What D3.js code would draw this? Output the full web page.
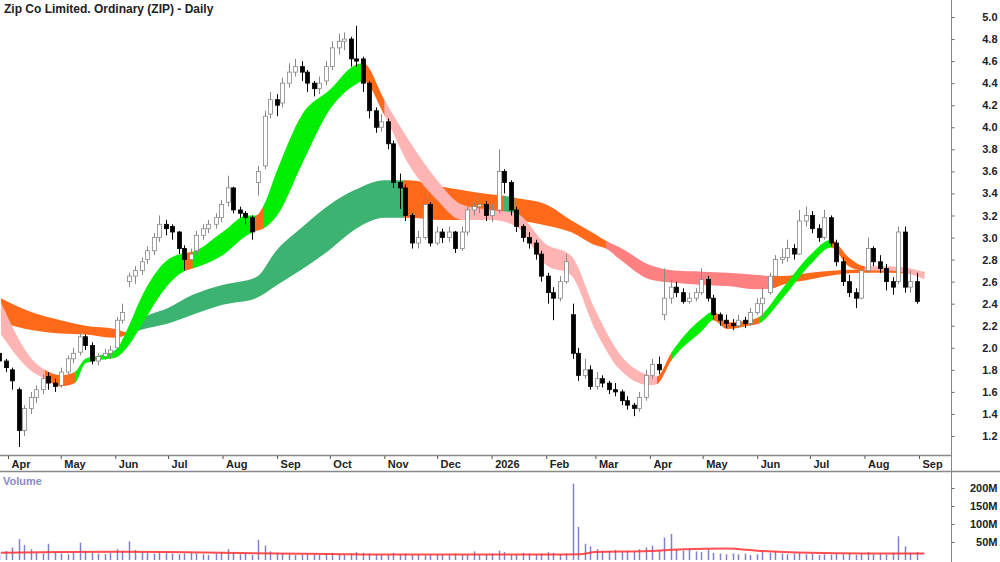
<!DOCTYPE html>
<html>
<head>
<meta charset="utf-8">
<script src="https://cdn.jsdelivr.net/npm/d3@7"></script>
<style>
  body { margin: 0; background: #fff; }
  text { font-family: "Liberation Sans", Arial, sans-serif; }
</style>
</head>
<body>
<script>
// price bars: [open, high, low, close], Mon/Thu samples from 27 Mar 2025
var ohlc = [
 [1.95,1.98,1.84,1.88],[1.88,1.90,1.78,1.82],[1.80,1.82,1.62,1.70],[1.62,1.64,1.10,1.25],[1.25,1.48,1.20,1.45],
 [1.45,1.60,1.40,1.55],[1.55,1.66,1.50,1.62],[1.62,1.76,1.58,1.72],[1.74,1.78,1.62,1.68],[1.68,1.72,1.60,1.65],
 [1.66,1.82,1.64,1.78],[1.78,1.93,1.75,1.90],[1.90,2.00,1.86,1.95],[1.96,2.14,1.93,2.10],[2.10,2.12,1.98,2.02],
 [2.02,2.05,1.85,1.88],[1.88,1.95,1.84,1.92],[1.92,1.99,1.89,1.95],[1.95,2.02,1.90,1.98],[2.00,2.28,1.97,2.25],
 [2.25,2.40,2.22,2.32],[2.60,2.68,2.55,2.65],[2.65,2.74,2.58,2.70],[2.70,2.82,2.66,2.78],[2.80,2.92,2.76,2.88],
 [2.88,3.04,2.84,3.00],[3.00,3.20,2.96,3.12],[3.12,3.16,3.02,3.08],[3.10,3.12,2.98,3.05],[3.05,3.06,2.85,2.90],
 [2.90,2.93,2.70,2.80],[2.80,2.90,2.76,2.85],[2.88,3.06,2.84,3.02],[3.02,3.12,2.98,3.08],[3.08,3.16,3.04,3.12],
 [3.12,3.22,3.08,3.18],[3.18,3.34,3.14,3.30],[3.32,3.56,3.28,3.45],[3.45,3.46,3.22,3.25],[3.25,3.28,3.18,3.22],
 [3.22,3.24,3.12,3.18],[3.18,3.20,2.98,3.05],[3.50,3.65,3.38,3.60],[3.65,4.15,3.62,4.10],[4.12,4.32,4.08,4.25],
 [4.25,4.30,4.10,4.20],[4.22,4.45,4.18,4.40],[4.40,4.58,4.36,4.50],[4.50,4.62,4.46,4.55],[4.55,4.60,4.42,4.50],
 [4.50,4.52,4.32,4.40],[4.40,4.42,4.28,4.35],[4.35,4.46,4.30,4.40],[4.42,4.60,4.38,4.55],[4.55,4.78,4.52,4.72],
 [4.72,4.85,4.66,4.78],[4.78,4.86,4.70,4.80],[4.80,4.82,4.55,4.62],[4.62,4.92,4.55,4.60],[4.62,4.64,4.32,4.40],
 [4.40,4.42,4.08,4.15],[4.15,4.18,3.95,4.00],[4.00,4.12,3.96,4.05],[4.05,4.08,3.80,3.85],[3.85,3.88,3.45,3.50],
 [3.50,3.58,3.26,3.45],[3.45,3.48,3.15,3.20],[3.20,3.22,2.90,2.95],[2.95,3.06,2.90,3.00],[3.00,3.36,2.98,3.30],
 [3.30,3.32,2.92,2.95],[2.95,3.10,2.93,3.05],[3.05,3.08,2.95,3.00],[3.00,3.10,2.96,3.05],[3.05,3.06,2.86,2.90],
 [2.90,3.10,2.88,3.05],[3.05,3.28,3.02,3.25],[3.25,3.32,3.20,3.28],[3.28,3.36,3.22,3.30],[3.30,3.33,3.15,3.20],
 [3.20,3.30,3.14,3.25],[3.25,3.80,3.22,3.60],[3.60,3.62,3.40,3.50],[3.50,3.52,3.20,3.25],[3.25,3.28,3.05,3.10],
 [3.10,3.12,2.96,3.00],[3.00,3.05,2.90,2.95],[2.95,2.98,2.80,2.85],[2.85,2.88,2.60,2.65],[2.65,2.68,2.40,2.50],
 [2.50,2.55,2.25,2.45],[2.45,2.65,2.42,2.60],[2.60,2.85,2.58,2.78],[2.30,2.40,1.90,1.95],[1.95,2.00,1.70,1.75],
 [1.75,1.90,1.72,1.80],[1.80,1.84,1.62,1.65],[1.65,1.78,1.62,1.72],[1.72,1.75,1.64,1.68],[1.68,1.70,1.58,1.62],
 [1.62,1.68,1.56,1.60],[1.60,1.62,1.48,1.52],[1.52,1.56,1.44,1.48],[1.48,1.50,1.38,1.45],[1.45,1.60,1.42,1.55],
 [1.55,1.80,1.52,1.75],[1.75,1.90,1.72,1.85],[1.85,1.92,1.76,1.80],[2.30,2.72,2.25,2.45],[2.45,2.62,2.40,2.55],
 [2.55,2.60,2.46,2.50],[2.50,2.54,2.40,2.42],[2.42,2.50,2.40,2.45],[2.45,2.54,2.42,2.50],[2.50,2.72,2.48,2.62],
 [2.62,2.65,2.42,2.45],[2.45,2.48,2.26,2.30],[2.30,2.32,2.20,2.25],[2.25,2.30,2.18,2.22],[2.22,2.26,2.16,2.20],
 [2.20,2.30,2.18,2.25],[2.25,2.28,2.18,2.22],[2.22,2.36,2.20,2.32],[2.32,2.45,2.30,2.40],[2.40,2.55,2.28,2.45],
 [2.50,2.68,2.48,2.65],[2.65,2.84,2.62,2.80],[2.80,2.90,2.76,2.82],[2.82,2.98,2.78,2.90],[2.90,2.94,2.80,2.85],
 [2.85,3.25,2.84,3.15],[3.15,3.28,3.10,3.20],[3.20,3.24,3.04,3.08],[3.08,3.12,2.96,3.00],[3.00,3.25,2.98,3.18],
 [3.18,3.20,2.92,2.95],[2.95,2.98,2.74,2.78],[2.78,2.82,2.56,2.60],[2.60,2.66,2.46,2.50],[2.50,2.54,2.36,2.45],
 [2.45,2.74,2.44,2.70],[2.70,3.00,2.68,2.90],[2.90,2.92,2.74,2.78],[2.78,2.84,2.68,2.72],[2.72,2.76,2.52,2.60],
 [2.60,2.64,2.48,2.55],[2.60,3.10,2.58,3.05],[3.05,3.10,2.50,2.55],[2.55,2.70,2.50,2.60],[2.60,2.68,2.40,2.42]
];

// volume in millions, same samples as ohlc
var volume = [
 22,25,35,58,42,30,20,18,45,22,18,16,20,48,24,20,18,16,20,30,
 26,52,28,22,20,18,24,20,18,16,18,20,18,16,14,18,22,30,20,16,
 18,14,56,40,24,20,18,16,14,16,18,16,14,18,20,16,14,18,22,20,
 18,16,15,14,20,16,18,14,15,13,16,14,15,13,18,16,14,24,14,16,
 18,26,22,14,16,20,18,16,18,22,20,16,18,212,92,45,38,30,26,24,
 28,22,25,22,30,35,40,28,62,72,30,26,28,24,22,30,20,18,16,18,
 16,18,14,16,22,20,24,18,16,18,20,16,18,14,16,15,18,16,20,14,
 18,22,16,18,15,20,66,38,20,22
];

// long-term moving average ribbon
var longDates = ["2025-03-28","2025-04-15","2025-05-01","2025-05-15","2025-06-01","2025-06-08","2025-06-15","2025-07-01",
  "2025-07-15","2025-08-01","2025-08-20","2025-09-01","2025-09-15","2025-10-01","2025-10-15","2025-11-01","2025-11-12",
  "2025-11-15","2025-12-01","2025-12-15","2026-01-01","2026-01-08","2026-01-14","2026-02-01","2026-02-15","2026-03-01",
  "2026-03-07","2026-03-15","2026-04-01","2026-04-15","2026-05-01","2026-05-15","2026-06-01","2026-06-10","2026-06-15",
  "2026-07-01","2026-07-15","2026-08-01","2026-08-15","2026-09-01","2026-09-04"];
var longTop = [2.45,2.32,2.25,2.20,2.17,2.14,2.25,2.36,2.48,2.57,2.64,2.89,3.09,3.30,3.43,3.52,3.52,3.52,3.47,3.43,3.39,3.38,
  3.36,3.30,3.16,3.03,2.97,2.91,2.75,2.70,2.69,2.68,2.66,2.65,2.65,2.68,2.70,2.71,2.71,2.69,2.69];
var longBot = [2.23,2.16,2.13,2.12,2.09,2.12,2.16,2.22,2.30,2.39,2.45,2.57,2.71,2.89,3.07,3.18,3.18,3.18,3.16,3.16,3.18,3.17,
  3.16,3.11,3.05,2.93,2.90,2.80,2.62,2.59,2.57,2.56,2.53,2.54,2.57,2.62,2.66,2.68,2.68,2.66,2.65];
var longState = ["o","o","o","o","o","dg","dg","dg","dg","dg","dg","dg","dg","dg","dg","dg","o","o","o","o","o","dg",
  "o","o","o","o","sal","sal","sal","sal","sal","sal","sal","o","o","o","o","o","o","o","o"];

// short-term moving average ribbon
var shortDates = ["2025-03-28","2025-04-15","2025-04-22","2025-05-01","2025-05-09","2025-05-15","2025-05-23","2025-06-01",
  "2025-06-09","2025-06-15","2025-07-01","2025-07-11","2025-07-15","2025-08-01","2025-08-15","2025-08-20","2025-08-24",
  "2025-09-01","2025-09-15","2025-10-01","2025-10-15","2025-10-20","2025-11-01","2025-11-15","2025-12-01","2025-12-15",
  "2026-01-01","2026-01-15","2026-02-01","2026-02-15","2026-03-01","2026-03-15","2026-04-01","2026-04-05","2026-04-13",
  "2026-05-01","2026-05-07","2026-05-15","2026-05-27","2026-06-02","2026-06-15","2026-07-01","2026-07-13","2026-07-23",
  "2026-08-01","2026-08-15","2026-09-01","2026-09-04"];
var shortTop = [2.41,1.89,1.80,1.75,1.78,1.90,1.93,1.98,2.21,2.43,2.80,2.86,2.87,3.05,3.20,3.20,3.28,3.61,4.11,4.34,4.56,
  4.58,4.25,3.88,3.52,3.30,3.25,3.22,2.94,2.84,2.34,1.94,1.75,1.74,1.95,2.27,2.33,2.23,2.25,2.28,2.53,2.84,2.98,2.82,
  2.74,2.74,2.70,2.68];
var shortBot = [2.12,1.78,1.72,1.65,1.68,1.86,1.89,1.91,2.03,2.18,2.57,2.70,2.72,2.84,3.02,3.06,3.08,3.20,3.66,4.16,4.38,
  4.42,4.11,3.66,3.34,3.16,3.16,3.10,2.75,2.66,2.16,1.80,1.66,1.67,1.88,2.16,2.25,2.17,2.20,2.22,2.44,2.75,2.91,2.74,
  2.70,2.70,2.64,2.62];
var shortState = ["p","p","o","o","g","g","g","g","g","g","g","o","g","g","g","o","g","g","g","g","g","o","p","p","p","p",
  "p","p","p","p","p","p","p","o","g","g","o","o","o","g","g","g","o","o","p","p","p","p"];

// volume moving average (millions)
var volMaDates = ["2025-03-28","2025-05-01","2025-06-01","2025-07-01","2025-08-01","2025-09-01","2025-10-01","2025-11-01",
  "2025-12-01","2026-01-01","2026-02-01","2026-02-20","2026-03-01","2026-04-01","2026-04-20","2026-05-15","2026-06-01",
  "2026-07-01","2026-08-01","2026-09-04"];
var volMa = [20,22,23,22,20,18,17,15,15,15,15,16,22,25,30,32,26,20,18,18];

var priceTicks = [1.2,1.4,1.6,1.8,2.0,2.2,2.4,2.6,2.8,3.0,3.2,3.4,3.6,3.8,4.0,4.2,4.4,4.6,4.8,5.0];
var volTicks = [50,100,150,200];

var colors = { g: "#00ee00", o: "#ff6a1a", p: "#ffb4b4", dg: "#3cb371", sal: "#ff8080" };

var W = 1000, H = 562, plotRight = 951;
var parse = d3.timeParse("%Y-%m-%d");

// bar dates: Mondays and Thursdays from 27 Mar 2025
var barDates = d3.timeDay.range(parse("2025-03-27"), parse("2026-09-30"))
  .filter(function(d){ return d.getDay() === 1 || d.getDay() === 4; })
  .slice(0, ohlc.length);

var x = d3.scaleTime().domain([parse("2025-04-01"), parse("2026-09-01")]).range([8, 919]);
var y = d3.scaleLinear().domain([1.2, 5.0]).range([436, 17]);
var yv = d3.scaleLinear().domain([0, 200]).range([560, 488]);

var svg = d3.select("body").append("svg").attr("width", W).attr("height", H);
var defs = svg.append("defs");
defs.append("clipPath").attr("id", "plotClip").append("rect")
  .attr("x", 0).attr("y", 0).attr("width", plotRight).attr("height", 455);

var plot = svg.append("g").attr("clip-path", "url(#plotClip)");

// draw a ribbon, split into colour runs with clip rects
var clipId = 0;
function ribbon(dates, top, bot, state){
  var pts = dates.map(function(d, i){ return { d: parse(d), t: top[i], b: bot[i], s: state[i] }; });
  var area = d3.area().curve(d3.curveMonotoneX)
    .x(function(p){ return x(p.d); })
    .y0(function(p){ return y(p.b); })
    .y1(function(p){ return y(p.t); });
  var start = 0;
  for (var i = 1; i <= pts.length; i++) {
    if (i === pts.length || pts[i].s !== pts[start].s || i === pts.length - 1) {
      var end = Math.min(i, pts.length - 1);
      var id = "rc" + (clipId++);
      var x0 = x(pts[start].d), x1 = x(pts[end].d);
      defs.append("clipPath").attr("id", id).append("rect")
        .attr("x", start === 0 ? -10 : x0).attr("y", 0)
        .attr("width", x1 - (start === 0 ? -10 : x0) + 0.6).attr("height", H);
      plot.append("path").datum(pts).attr("d", area)
        .attr("clip-path", "url(#" + id + ")")
        .attr("fill", colors[pts[start].s]);
      start = end;
      if (i === pts.length - 1) break;
    }
  }
}
ribbon(longDates, longTop, longBot, longState);
ribbon(shortDates, shortTop, shortBot, shortState);

// price bars
var bars = plot.selectAll(".bar").data(ohlc).enter().append("g").attr("class", "bar")
  .attr("transform", function(d, i){ return "translate(" + Math.round(x(barDates[i])) + ",0)"; });
bars.append("line")
  .attr("x1", 0.5).attr("x2", 0.5)
  .attr("y1", function(d){ return y(d[1]); })
  .attr("y2", function(d){ return y(d[2]); })
  .attr("stroke", function(d){ return d[3] >= d[0] ? "#888" : "#000"; })
  .attr("stroke-width", 1);
bars.append("rect")
  .attr("x", -1.5).attr("width", 4)
  .attr("y", function(d){ return y(Math.max(d[0], d[3])); })
  .attr("height", function(d){ return Math.max(1, Math.abs(y(d[0]) - y(d[3]))); })
  .attr("fill", function(d){ return d[3] >= d[0] ? "#fff" : "#000"; })
  .attr("stroke", function(d){ return d[3] >= d[0] ? "#888" : "#000"; })
  .attr("stroke-width", 0.8);

// title
svg.append("text").attr("x", 4).attr("y", 13)
  .attr("font-size", 12).attr("font-weight", "bold").attr("fill", "#222")
  .text("Zip Co Limited. Ordinary (ZIP) - Daily");

// right price axis
svg.append("line").attr("x1", plotRight + 0.5).attr("x2", plotRight + 0.5)
  .attr("y1", 0).attr("y2", H).attr("stroke", "#888");
var pAxis = svg.append("g").attr("transform", "translate(" + (plotRight + 0.5) + ",0)")
  .call(d3.axisRight(y).tickValues(priceTicks).tickFormat(d3.format(".1f")).tickSize(3));
pAxis.select(".domain").remove();
pAxis.selectAll("line").attr("stroke", "#666");
pAxis.selectAll("text").attr("x", 46).attr("text-anchor", "end").attr("font-size", 11).attr("font-weight", "bold")
  .attr("fill", "#222").attr("font-family", "Liberation Sans, Arial");

// date axis band
svg.append("line").attr("x1", 0).attr("x2", plotRight).attr("y1", 455.5).attr("y2", 455.5).attr("stroke", "#888").attr("stroke-width", 1.5);
svg.append("line").attr("x1", 0).attr("x2", W).attr("y1", 471.5).attr("y2", 471.5).attr("stroke", "#888").attr("stroke-width", 1.5);
var months = d3.timeMonth.range(parse("2025-04-01"), parse("2026-09-02"));
var mAxis = svg.append("g").attr("transform", "translate(0,456)")
  .call(d3.axisBottom(x).tickValues(months).tickSize(3)
    .tickFormat(function(d){ return d.getMonth() === 0 ? d3.timeFormat("%Y")(d) : d3.timeFormat("%b")(d); }));
mAxis.select(".domain").remove();
mAxis.selectAll("line").attr("stroke", "#555");
mAxis.selectAll("text").attr("text-anchor", "start").attr("x", 3).attr("y", 4)
  .attr("font-size", 11).attr("font-weight", "bold").attr("fill", "#222")
  .attr("font-family", "Liberation Sans, Arial");

// volume panel
svg.append("text").attr("x", 3).attr("y", 485).attr("font-size", 11).attr("font-weight", "bold")
  .attr("fill", "#8a8ac8").text("Volume");
svg.append("g").selectAll("line").data(volume).enter().append("line")
  .attr("x1", function(d, i){ return Math.round(x(barDates[i])) + 0.5; })
  .attr("x2", function(d, i){ return Math.round(x(barDates[i])) + 0.5; })
  .attr("y1", yv(0)).attr("y2", function(d){ return yv(d); })
  .attr("stroke", "#8080cc").attr("stroke-width", 1.5);
svg.append("path").datum(volMaDates.map(function(d, i){ return [parse(d), volMa[i]]; }))
  .attr("d", d3.line().curve(d3.curveMonotoneX)
    .x(function(p){ return x(p[0]); }).y(function(p){ return yv(p[1]); }))
  .attr("fill", "none").attr("stroke", "#ff3030").attr("stroke-width", 2).attr("opacity", 0.85);
var vAxis = svg.append("g").attr("transform", "translate(" + (plotRight + 0.5) + ",0)")
  .call(d3.axisRight(yv).tickValues(volTicks).tickFormat(function(d){ return d + "M"; }).tickSize(3));
vAxis.select(".domain").remove();
vAxis.selectAll("line").attr("stroke", "#666");
vAxis.selectAll("text").attr("x", 46).attr("text-anchor", "end").attr("font-size", 11).attr("font-weight", "bold")
  .attr("fill", "#222").attr("font-family", "Liberation Sans, Arial");
</script>
</body>
</html>
